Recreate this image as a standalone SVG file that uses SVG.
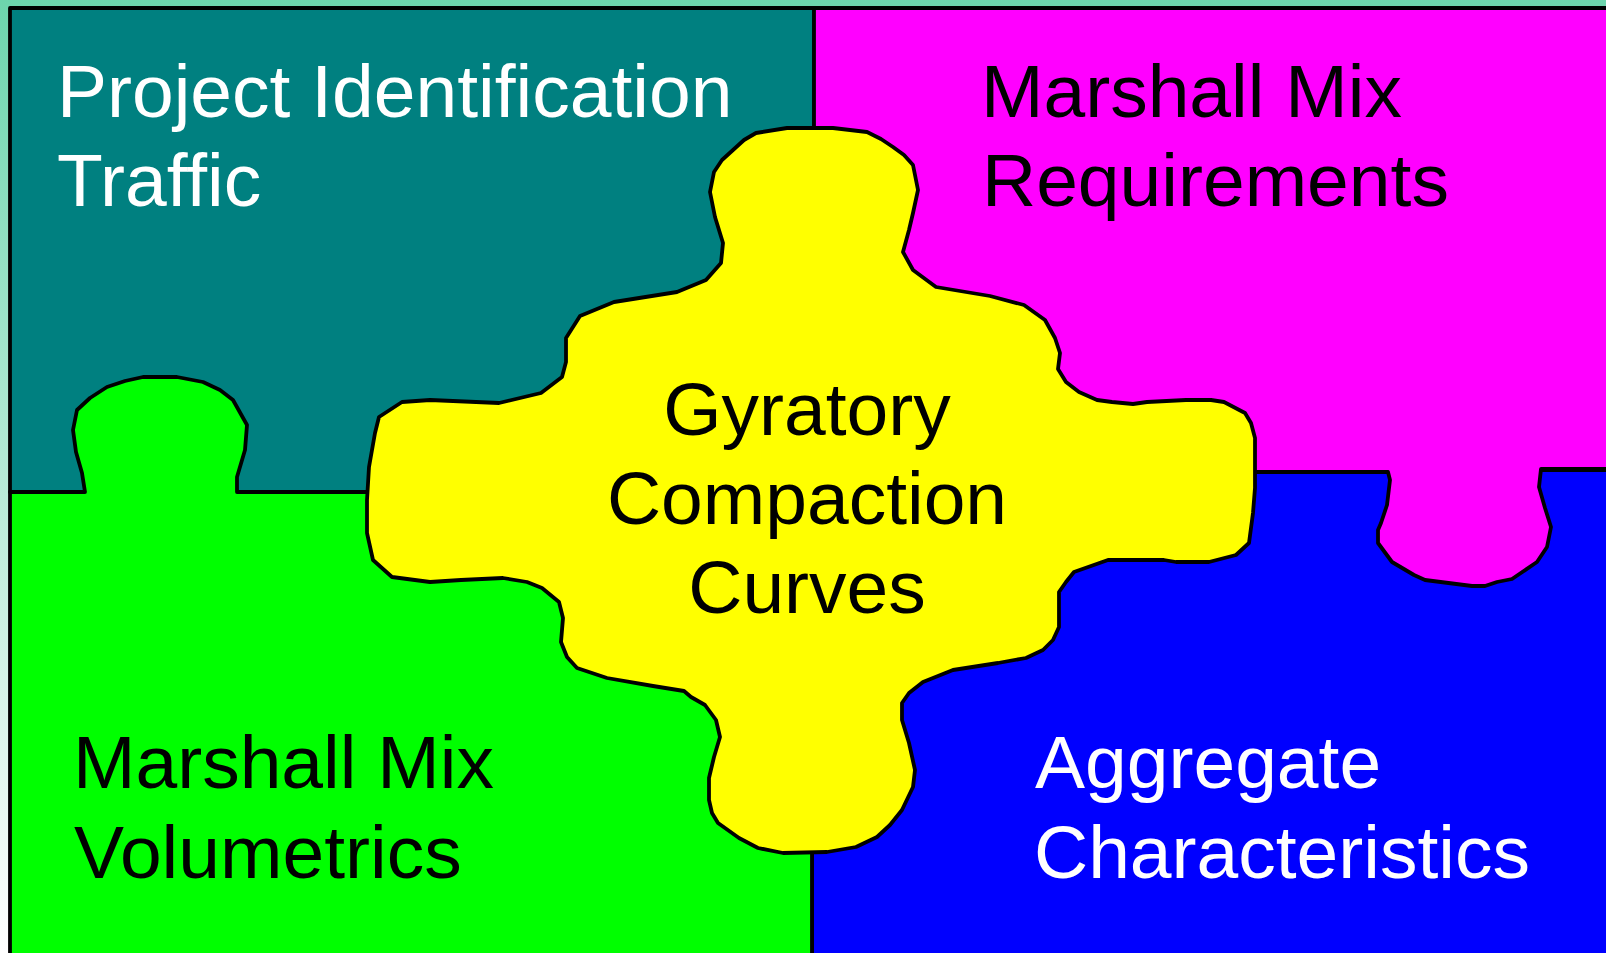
<svg xmlns="http://www.w3.org/2000/svg" width="1606" height="953" viewBox="0 0 1606 953">
<defs>
<linearGradient id="bg" x1="0" y1="0" x2="0" y2="1">
<stop offset="0" stop-color="#6dd5ad"/>
<stop offset="1" stop-color="#ffffff"/>
</linearGradient>
</defs>
<style>
.piece{stroke:#000;stroke-width:3.8;stroke-linejoin:round}
.lbl{font-family:"Liberation Sans",Arial,sans-serif;font-size:75px}
.w{fill:#fff}
.k{fill:#000}
</style>
<rect x="0" y="0" width="1606" height="953" fill="url(#bg)"/>
<g id="teal">
<rect class="piece" x="10" y="8" width="804" height="484" fill="#008080"/>
</g>
<g id="blue">
<rect class="piece" x="812" y="470" width="800" height="490" fill="#0000ff"/>
</g>
<g id="green">
<path class="piece" fill="#00ff00" d="M10,492 H85 L82,473 L76,452 L73,430 L77,410 L90,398 L107,387 L125,381 L143,377 L177,377 L203,382 L220,390 L233,400 L247,425 L245,450 L237,477 L237,492 H812 V960 H10 Z"/>
</g>
<g id="magenta">
<path class="piece" fill="#ff00ff" d="M814,8 H1612 V469 H1541 L1539,487 L1545,508 L1551,527 L1547,547 L1537,562 L1512,579 L1497,582 L1485,586 L1472,586 L1425,580 L1414,575 L1392,562 L1378,543 L1378,530 L1381,523 L1387,505 L1390,480 L1388,472 H814 Z"/>
</g>
<g id="yellow">
<path class="piece" fill="#ffff00" d="M733,150 L744,140 L756,133 L787,128 L833,128 L867,132 L881,139 L893,147 L904,155 L913,165 L918,190 L913,213 L909,230 L903,252 L913,270 L936,287 L990,296 L1024,305 L1045,320 L1055,338 L1060,353 L1058,369 L1066,382 L1079,392 L1097,400 L1112,402 L1133,404 L1147,402 L1186,400 L1211,400 L1224,402 L1245,413 L1251,423 L1255,438 L1255,488 L1253,513 L1249,543 L1236,555 L1209,562 L1176,562 L1164,560 L1108,560 L1074,572 L1066,582 L1059,592 L1059,627 L1053,640 L1043,650 L1026,658 L998,663 L953,670 L923,682 L909,693 L902,703 L902,720 L909,743 L915,770 L913,787 L902,810 L890,825 L877,837 L856,847 L827,852 L783,853 L758,848 L739,838 L718,823 L712,813 L709,800 L709,778 L714,757 L720,737 L716,720 L705,705 L691,697 L684,691 L653,686 L607,678 L577,668 L567,657 L561,642 L563,618 L559,602 L542,588 L527,582 L503,578 L461,580 L430,582 L392,577 L373,560 L367,533 L367,500 L369,467 L375,433 L379,417 L402,402 L430,400 L476,402 L499,403 L541,393 L562,377 L566,362 L566,338 L580,316 L614,302 L677,292 L706,280 L721,263 L723,243 L715,217 L710,192 L714,172 L722,160 Z"/>
</g>
<g id="labels">
<text class="lbl w" x="57" y="117">Project Identification</text>
<text class="lbl w" x="57" y="206">Traffic</text>
<text class="lbl k" x="981" y="117">Marshall Mix</text>
<text class="lbl k" x="982" y="206">Requirements</text>
<text class="lbl k" x="807" y="435" text-anchor="middle">Gyratory</text>
<text class="lbl k" x="807" y="524" text-anchor="middle">Compaction</text>
<text class="lbl k" x="807" y="613" text-anchor="middle">Curves</text>
<text class="lbl k" x="73" y="788">Marshall Mix</text>
<text class="lbl k" x="74" y="878">Volumetrics</text>
<text class="lbl w" x="1035" y="788">Aggregate</text>
<text class="lbl w" x="1034" y="878">Characteristics</text>
</g>
</svg>
